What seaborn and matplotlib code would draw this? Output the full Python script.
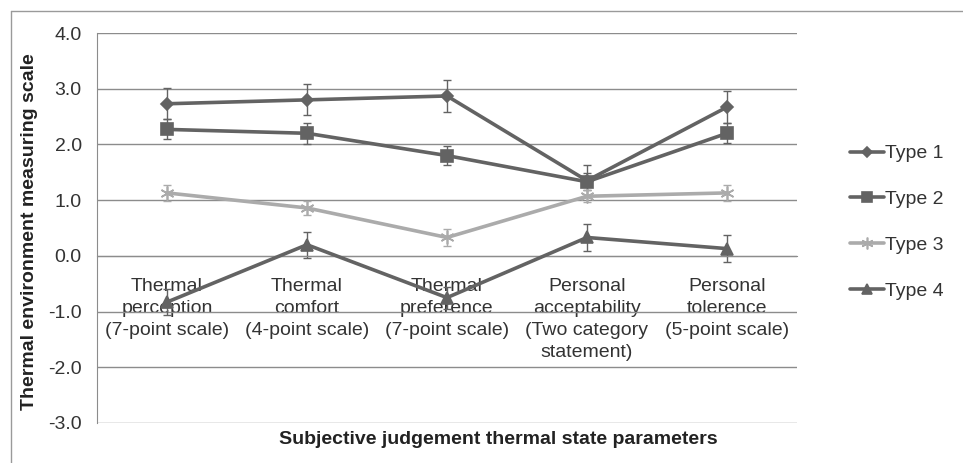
import numpy as np
import pandas as pd
import matplotlib
matplotlib.use("Agg")
import matplotlib.pyplot as plt
import seaborn as sns
from matplotlib.lines import Line2D

categories = ["Thermal\nperception\n(7-point scale)",
              "Thermal\ncomfort\n(4-point scale)",
              "Thermal\npreference\n(7-point scale)",
              "Personal\nacceptability\n(Two category\nstatement)",
              "Personal\ntolerence\n(5-point scale)"]

type1 = [2.73, 2.80, 2.87, 1.35, 2.67]
type1_err = [0.28, 0.28, 0.29, 0.28, 0.29]
type2 = [2.27, 2.20, 1.80, 1.33, 2.20]
type2_err = [0.18, 0.19, 0.17, 0.15, 0.18]
type3 = [1.13, 0.86, 0.33, 1.07, 1.13]
type3_err = [0.14, 0.13, 0.15, 0.11, 0.14]
type4 = [-0.83, 0.20, -0.75, 0.33, 0.13]
type4_err = [0.23, 0.23, 0.20, 0.25, 0.24]

sns.set_style("white")
plt.rcParams['font.family'] = ['Liberation Sans', 'DejaVu Sans']
plt.rcParams['axes.unicode_minus'] = False

dark = "#636363"
light = "#ababab"
star = (6, 2, 0)
series = [
    ("Type 1", type1, type1_err, dark, "D", 6),
    ("Type 2", type2, type2_err, dark, "s", 9),
    ("Type 3", type3, type3_err, light, star, 10),
    ("Type 4", type4, type4_err, dark, "^", 8),
]

fig = plt.figure(figsize=(9.63, 4.63), dpi=100)
ax = fig.add_axes([0.1007, 0.0864, 0.7269, 0.8423])

xpos = np.arange(len(categories))
for name, vals, err, col, mk, ms in series:
    df = pd.DataFrame({"x": xpos, "y": vals})
    sns.lineplot(data=df, x="x", y="y", color=col, marker=mk, markersize=ms,
                 markeredgecolor=col, markeredgewidth=1.2, linewidth=2.6,
                 label=name, ax=ax, zorder=3)
    ax.errorbar(xpos, vals, yerr=err, fmt="none", ecolor=col, elinewidth=1,
                capsize=3, capthick=1, zorder=2)

ax.set_xlim(-0.5, 4.5)
ax.set_ylim(-3, 4)
ax.set_yticks(np.arange(-3, 5, 1))
ax.set_yticklabels([f"{v:.1f}" for v in np.arange(-3, 5, 1)])
ax.set_xticks(xpos)
ax.set_xticklabels(categories)

ax.grid(axis="y", color="#8c8c8c", linewidth=1)
ax.set_axisbelow(True)
for s in ["top", "right"]:
    ax.spines[s].set_visible(False)
ax.spines["bottom"].set_position(("data", 0))
ax.spines["bottom"].set_color("#8c8c8c")
ax.spines["left"].set_color("#8c8c8c")
ax.tick_params(axis="y", length=5, color="#8c8c8c", labelsize=14, pad=6, labelcolor="#333333")
ax.tick_params(axis="x", length=0, labelsize=14, pad=16, labelcolor="#333333")
for t in ax.xaxis.get_majorticklabels():
    t.set_linespacing(1.38)

ax.set_xlabel("Subjective judgement thermal state parameters", fontsize=14, fontweight="bold", color="#222222")
ax.xaxis.set_label_coords(0.573, -0.02)
ax.set_ylabel("Thermal environment measuring scale", fontsize=14, fontweight="bold", color="#222222")
ax.yaxis.set_label_coords(-0.084, 0.49)

handles = [Line2D([], [], color=c, marker=m, markersize=ms * 0.85, markeredgecolor=c,
                  markeredgewidth=1.2, linewidth=2.6)
           for _, _, _, c, m, ms in series]
ax.legend(handles, [s[0] for s in series], loc="center left", bbox_to_anchor=(0.865, 0.52),
          bbox_transform=fig.transFigure, frameon=False, fontsize=14, handlelength=1.7,
          handletextpad=0.05, labelspacing=1.45, labelcolor="#333333")

fig.add_artist(Line2D([0.0114, 0.0114], [0.0, 0.976], transform=fig.transFigure, color="#9a9a9a", linewidth=1))
fig.add_artist(Line2D([0.0114, 1.0], [0.976, 0.976], transform=fig.transFigure, color="#9a9a9a", linewidth=1))

fig.savefig("out.png", dpi=100)
